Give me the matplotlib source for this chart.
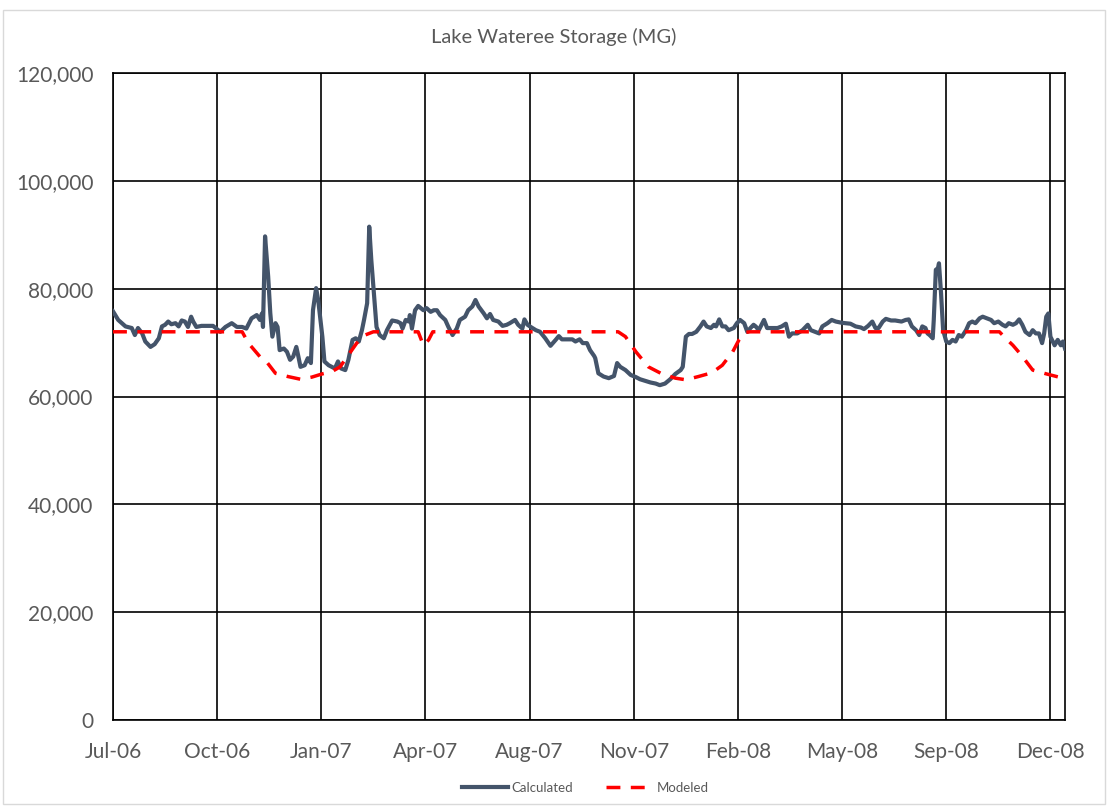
import pandas as pd
import matplotlib.pyplot as plt
import matplotlib.dates as mdates
from matplotlib.ticker import FuncFormatter
from matplotlib.patches import Rectangle

plt.rcParams["font.family"] = ["Lato", "DejaVu Sans"]

start = pd.Timestamp("2006-07-01")

# days after 1 Jul 2006, storage in MG
calc_day = [
    0, 5, 12, 18, 21, 24, 28, 31, 36, 40, 44, 47, 50, 53, 56, 60, 63, 66, 69, 72,
    75, 77, 80, 85, 92, 96, 103, 108, 114, 119, 124, 128, 133, 138, 141, 143, 144, 146, 149, 151,
    153, 156, 158, 160, 164, 167, 170, 173, 176, 178, 180, 184, 187, 190, 192, 195, 197, 201, 203, 207,
    210, 213, 216, 219, 223, 226, 230, 233, 236, 239, 241, 244, 246, 248, 250, 253, 256, 260, 263, 268,
    273, 276, 278, 281, 284, 285, 287, 290, 293, 298, 301, 305, 308, 311, 314, 319, 322, 326, 330, 333,
    338, 341, 345, 348, 351, 356, 359, 362, 365, 370, 374, 378, 381, 386, 389, 393, 395, 398, 401, 406,
    410, 415, 420, 425, 428, 431, 436, 441, 444, 448, 451, 455, 458, 462, 463, 466, 471, 476, 481, 484,
    487, 492, 497, 502, 506, 511, 516, 521, 525, 530, 535, 540, 545, 547, 550, 553, 556, 560, 564, 567,
    570, 574, 577, 579, 582, 585, 588, 591, 596, 599, 602, 606, 609, 612, 615, 617, 620, 625, 628, 633,
    638, 642, 646, 649, 652, 657, 662, 667, 670, 674, 678, 681, 686, 690, 694, 699, 703, 708, 713, 718,
    721, 725, 729, 732, 735, 739, 742, 747, 751, 757, 761, 764, 767, 771, 774, 777, 780, 782, 784, 787,
    788, 790, 792, 793, 795, 797, 800, 803, 806, 809, 812, 815, 819, 822, 825, 828, 832, 835, 839, 843,
    846, 850, 854, 857, 860, 864, 867, 870, 873, 876, 880, 883, 886, 889, 892, 894, 896, 898, 900, 904,
    907, 910, 912, 914,
]
calculated = [
    75800, 74200, 73000, 72700, 71400, 72700, 71700, 70200, 69200, 69700, 70800, 73000, 73300, 73900, 73400, 73600, 73000, 74100, 73900, 72900,
    74800, 73900, 72900, 73100, 73100, 73100, 72000, 72900, 73600, 72900, 72900, 72600, 74500, 75100, 74200, 75400, 72900, 89700, 82200, 75500,
    71100, 73600, 72900, 68600, 68900, 68300, 66800, 67400, 69200, 67400, 65500, 65800, 67100, 66200, 76000, 80100, 77900, 71100, 66500, 65800,
    65500, 65200, 66500, 65200, 64900, 66800, 70500, 70800, 70200, 72300, 74200, 77300, 91500, 85300, 80400, 72900, 71400, 70800, 72300, 74100,
    73900, 73600, 72600, 74200, 73900, 75100, 72600, 76000, 76800, 76000, 76400, 75700, 76000, 76000, 75100, 74200, 72900, 71400, 72600, 74200,
    74800, 76000, 76700, 77900, 76700, 75400, 74500, 75300, 74200, 73900, 73100, 73300, 73600, 74200, 73300, 72600, 74300, 73300, 72900, 72300,
    72000, 70800, 69400, 70500, 71200, 70600, 70600, 70600, 70200, 70600, 69900, 69900, 68600, 67500, 67100, 64300, 63700, 63400, 63800, 66200,
    65500, 64900, 64000, 63600, 63200, 62900, 62600, 62400, 62100, 62400, 63200, 64200, 64900, 65500, 71100, 71600, 71600, 72000, 73000, 73900,
    73000, 72700, 73300, 73000, 74300, 73000, 73000, 72300, 72700, 73600, 74200, 73600, 72000, 72700, 73300, 73000, 72300, 74200, 72700, 72700,
    72700, 73000, 73500, 71100, 71700, 71700, 72300, 73300, 72300, 72000, 71700, 73000, 73600, 74200, 73900, 73700, 73600, 73500, 73000, 72800,
    72500, 73100, 73900, 72700, 72700, 73900, 74400, 74100, 74100, 73900, 74200, 74300, 73000, 72300, 71400, 73000, 72700, 71700, 71400, 70800,
    74200, 83500, 83800, 84700, 79100, 72300, 70200, 69900, 70500, 70200, 71400, 71100, 72300, 73600, 73900, 73600, 74500, 74800, 74500, 74200,
    73600, 73900, 73300, 73000, 73600, 73300, 73600, 74300, 73300, 72000, 71400, 72300, 71700, 71700, 69900, 71700, 74800, 75400, 71100, 69500,
    70500, 69500, 70200, 68900,
]

model_day = [
    0, 124, 130, 141, 146, 156, 168, 180, 191, 201, 210, 218, 226, 234, 242, 250,
    293, 298, 303, 307, 485, 492, 502, 514, 527, 540, 550, 562, 575, 585, 595, 601,
    607, 612, 851, 857, 864, 872, 883, 896, 912,
]
modeled = [
    72000, 72000, 69900, 67400, 66800, 64300, 63700, 63200, 63600, 64200, 64600, 65500, 67700, 69900, 71400, 72000,
    72000, 69500, 70500, 72000, 72000, 71100, 68300, 65500, 64200, 63400, 63100, 63700, 64400, 65800, 68300, 70500,
    71900, 72000, 72000, 70800, 69500, 67700, 64900, 64200, 63400,
]

calc_dates = start + pd.to_timedelta(calc_day, unit="D")
model_dates = start + pd.to_timedelta(model_day, unit="D")
tick_dates = [start + pd.Timedelta(days=100 * k) for k in range(10)]

fig = plt.figure(figsize=(11.07, 8.06), dpi=100)
ax = fig.add_axes([113 / 1107, 1 - 720 / 806, (1065 - 113) / 1107, (720 - 73) / 806])

# chart area border
fig.patches.append(Rectangle((3 / 1107, 2 / 806), 1102 / 1107, 794 / 806,
                             transform=fig.transFigure, fill=False,
                             edgecolor="#d9d9d9", linewidth=1))

ax.plot(calc_dates, calculated, color="#44546a", linewidth=3.0, label="Calculated",
        solid_joinstyle="round", zorder=3)
ax.plot(model_dates, modeled, color="#ff0000", linewidth=2.5, linestyle=(0, (4, 3)),
        label="Modeled", zorder=4)

ax.set_xlim(start, start + pd.Timedelta(days=914))
ax.set_ylim(0, 120000)
ax.set_xticks(tick_dates)
ax.xaxis.set_major_formatter(mdates.DateFormatter("%b-%y"))
ax.set_yticks(range(0, 120001, 20000))
ax.yaxis.set_major_formatter(FuncFormatter(lambda v, p: f"{int(v):,}"))

ax.grid(True, color="black", linewidth=1.2)
ax.set_axisbelow(True)
for s in ax.spines.values():
    s.set_color("black")
    s.set_linewidth(1.2)
ax.tick_params(length=0, labelsize=15, labelcolor="#595959")
ax.tick_params(axis="x", pad=16)
ax.tick_params(axis="y", pad=14)

fig.text(0.5, 1 - 37 / 806, "Lake Wateree Storage (MG)", ha="center", va="center",
         fontsize=14.5, color="#595959")

fig.legend(loc="center", bbox_to_anchor=(585 / 1107, 1 - 788 / 806), ncol=2,
           frameon=False, fontsize=9.5, labelcolor="#595959", handlelength=3.5,
           columnspacing=2.5, handletextpad=0.3)

fig.savefig("out.png", dpi=100)
